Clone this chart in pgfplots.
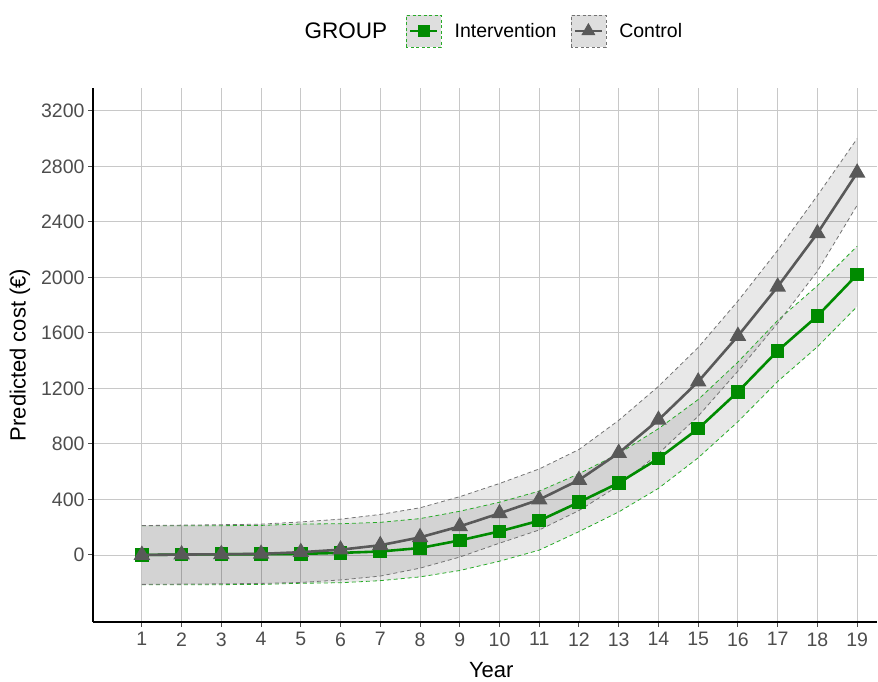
\documentclass[border=0pt]{standalone}
\usepackage{pgfplots}
\pgfplotsset{compat=1.18}
\usepgfplotslibrary{fillbetween}
\usepackage{pgfplotstable}
\usepackage{fontspec}
\setmainfont{Liberation Sans}

\definecolor{igreen}{RGB}{0,139,0}
\definecolor{iband}{RGB}{40,170,40}
\definecolor{cgray}{RGB}{89,89,89}
\definecolor{cband}{RGB}{115,115,115}
\definecolor{tickgray}{RGB}{77,77,77}
\definecolor{gridgray}{RGB}{200,200,200}

% predicted cost per year, mean and interval bounds
\pgfplotstableread{
x   im    ilo    ihi    cm    clo    chi
1   0     -214   211    0     -212   212
2   3     -214   211    3     -210   215
3   5     -214   211    5     -208   218
4   5     -212   213    8     -205   222
5   8     -204   223    20    -198   238
6   15    -200   225    38    -180   258
7   25    -185   235    70    -152   292
8   50    -158   262    127   -95    340
9   105   -112   315    206   -15    420
10  170   -45    380    300   85     515
11  247   35     460    399   180    620
12  380   168    585    540   320    760
13  519   310    730    735   500    970
14  695   480    910    973   730    1215
15  910   700    1120   1249  1000   1495
16  1176  960    1390   1578  1325   1830
17  1471  1250   1690   1933  1670   2195
18  1722  1500   1940   2318  2045   2590
19  2020  1790   2225   2754  2520   3000
}\costdata

\begin{document}
\begin{tikzpicture}
\begin{axis}[
  scale only axis, width=784pt, height=534pt,
  xmin=-0.23, xmax=19.5, ymin=-483, ymax=3365,
  axis x line*=bottom, axis y line*=left,
  axis line style={black, line width=2.2pt, -},
  xtick={1,...,19}, ytick={0,400,...,3200},
  grid=major, major grid style={gridgray, line width=0.9pt},
  tick style={tickgray, line width=1pt}, tick align=outside, major tick length=5pt,
  tick label style={font=\fontsize{19.5}{22}\selectfont, text=tickgray},
  xticklabel style={yshift=-2pt},
  /pgf/number format/assume math mode=true,
  /pgf/number format/1000 sep={},
  xlabel={Year}, ylabel={Predicted cost (€)},
  label style={font=\fontsize{22}{26}\selectfont},
  xlabel style={at={(axis description cs:0.508,-0.0908)}, anchor=center},
  ylabel style={at={(axis description cs:-0.0931,0.5)}, anchor=center},
  clip mode=individual,
  legend style={at={(0.5765,1.1067)}, anchor=center, draw=none, fill=none,
    legend columns=2, font=\fontsize{19.5}{23}\selectfont,
    /tikz/every odd column/.append style={column sep=11pt},
    /tikz/every even column/.append style={column sep=12pt}},
  legend cell align=left,
]
  % intervention band
  \addplot[name path=ihi, iband, line width=0.8pt, dash pattern=on 4pt off 3pt, forget plot] table[x=x,y=ihi]{\costdata};
  \addplot[name path=ilo, iband, line width=0.8pt, dash pattern=on 4pt off 3pt, forget plot] table[x=x,y=ilo]{\costdata};
  \addplot[fill=black, fill opacity=0.09, draw=none, forget plot] fill between[of=ihi and ilo];
  % control band
  \addplot[name path=chi, cband, line width=0.8pt, dash pattern=on 4pt off 3pt, forget plot] table[x=x,y=chi]{\costdata};
  \addplot[name path=clo, cband, line width=0.8pt, dash pattern=on 4pt off 3pt, forget plot] table[x=x,y=clo]{\costdata};
  \addplot[fill=black, fill opacity=0.09, draw=none, forget plot] fill between[of=chi and clo];

  \addplot[igreen, line width=2.6pt, mark=square*, mark size=5.5pt, mark options={solid},
    legend image code/.code={
      \draw[solid, draw=iband, line width=0.8pt, dash pattern=on 3pt off 2.5pt, fill=black!13] (0pt,-16pt) rectangle (35pt,16pt);
      \draw[mark repeat=2, mark phase=2, mark size=4.5pt] plot coordinates {(4pt,0pt) (17.5pt,0pt) (31pt,0pt)};
    }] table[x=x,y=im]{\costdata};
  \addplot[cgray, line width=2.6pt, mark=triangle*, mark size=7pt, mark options={solid},
    legend image code/.code={
      \draw[solid, draw=cband, line width=0.8pt, dash pattern=on 3pt off 2.5pt, fill=black!13] (0pt,-16pt) rectangle (35pt,16pt);
      \draw[mark repeat=2, mark phase=2, mark size=5.5pt] plot coordinates {(4pt,0pt) (17.5pt,0pt) (31pt,0pt)};
    }] table[x=x,y=cm]{\costdata};
  \legend{Intervention, Control}

  \node[font=\fontsize{22.5}{26}\selectfont] at (axis description cs:0.3227,1.1067) {GROUP};
\end{axis}
\pgfresetboundingbox
\path ([xshift=-93pt,yshift=88pt]current axis.north west) rectangle ([xshift=1pt,yshift=-60pt]current axis.south east);
\end{tikzpicture}
\end{document}
